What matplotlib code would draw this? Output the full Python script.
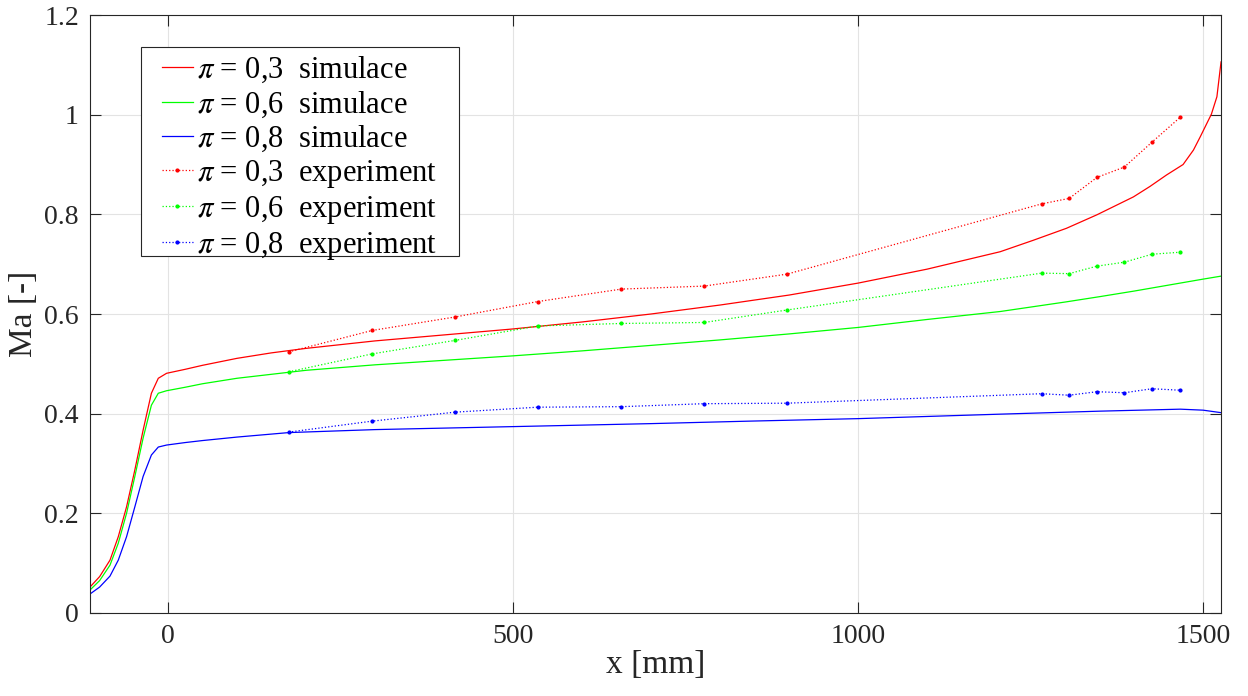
import numpy as np
import matplotlib.pyplot as plt
from matplotlib.patches import Rectangle
from matplotlib.ticker import FuncFormatter

plt.rcParams['font.family'] = ['Liberation Serif', 'DejaVu Serif']
plt.rcParams['mathtext.fontset'] = 'stix'

# simulation curves
sim03_x = [-113, -99, -84, -72, -60, -48, -36, -24, -14, -2, 25, 50, 100, 150, 200, 300, 400, 500,
           600, 700, 800, 900, 1000, 1100, 1206, 1254, 1302, 1346, 1399, 1423, 1447, 1471, 1486, 1496,
           1512, 1520, 1526]
sim03_y = [0.052, 0.073, 0.106, 0.153, 0.213, 0.287, 0.367, 0.441, 0.471, 0.481, 0.489, 0.497,
           0.511, 0.522, 0.531, 0.546, 0.558, 0.570, 0.584, 0.600, 0.618, 0.638, 0.662, 0.690, 0.725,
           0.748, 0.772, 0.799, 0.835, 0.856, 0.879, 0.900, 0.929, 0.956, 1.001, 1.036, 1.106]

sim06_x = [-113, -99, -84, -72, -60, -48, -36, -24, -14, -2, 25, 50, 100, 200, 300, 400, 500,
           600, 700, 800, 900, 1000, 1100, 1206, 1300, 1351, 1400, 1450, 1500, 1526]
sim06_y = [0.046, 0.065, 0.096, 0.140, 0.200, 0.274, 0.351, 0.417, 0.441, 0.446, 0.453, 0.460,
           0.471, 0.487, 0.498, 0.507, 0.516, 0.526, 0.537, 0.548, 0.560, 0.573, 0.589, 0.605, 0.624,
           0.635, 0.646, 0.658, 0.670, 0.676]

sim08_x = [-113, -99, -84, -72, -60, -48, -36, -24, -14, -2, 25, 50, 100, 175, 300, 500,
           700, 843, 1000, 1206, 1350, 1467, 1500, 1526]
sim08_y = [0.038, 0.052, 0.074, 0.106, 0.153, 0.213, 0.274, 0.317, 0.333, 0.337, 0.342, 0.346,
           0.353, 0.362, 0.368, 0.374, 0.380, 0.385, 0.390, 0.399, 0.405, 0.409, 0.407, 0.402]

# experiment points
exp_x = [175, 296, 416, 536, 657, 777, 897, 1266, 1306, 1346, 1386, 1426, 1467]
exp03 = [0.524, 0.567, 0.594, 0.625, 0.650, 0.656, 0.680, 0.821, 0.832, 0.874, 0.895, 0.945, 0.995]
exp06 = [0.484, 0.520, 0.547, 0.576, 0.581, 0.583, 0.608, 0.682, 0.681, 0.696, 0.704, 0.720, 0.724]
exp08 = [0.363, 0.385, 0.403, 0.413, 0.414, 0.420, 0.421, 0.440, 0.437, 0.444, 0.442, 0.450, 0.447]

labels = [r'$\pi$ = 0,3  simulace', r'$\pi$ = 0,6  simulace', r'$\pi$ = 0,8  simulace',
          r'$\pi$ = 0,3  experiment', r'$\pi$ = 0,6  experiment', r'$\pi$ = 0,8  experiment']
colors = ['#ff0000', '#00ff00', '#0000ff']

W, H = 1248, 696
fig = plt.figure(figsize=(W / 100, H / 100), dpi=100)
ax = fig.add_axes([0.0721, 0.1193, 0.9063, 0.8591])

ax.plot(sim03_x, sim03_y, color=colors[0], lw=0.9, label=labels[0])
ax.plot(sim06_x, sim06_y, color=colors[1], lw=0.9, label=labels[1])
ax.plot(sim08_x, sim08_y, color=colors[2], lw=0.9, label=labels[2])
for ys, c, lab in zip([exp03, exp06, exp08], colors, labels[3:]):
    ax.plot(exp_x, ys, color=c, ls=':', lw=0.9, marker='.', ms=4, label=lab)

ax.set_xlim(-113, 1526)
ax.set_ylim(0, 1.2)
ax.set_xticks([0, 500, 1000, 1500])
ax.set_yticks([0, 0.2, 0.4, 0.6, 0.8, 1.0, 1.2])
ax.yaxis.set_major_formatter(FuncFormatter(lambda v, p: '%g' % round(v, 2)))
ax.grid(True, color='#e3e3e3', lw=0.8)
ax.set_axisbelow(True)
ax.tick_params(direction='in', length=8, top=True, right=True, labelsize=20, colors='#262626', pad=8)
for s in ax.spines.values():
    s.set_color('#262626')
    s.set_linewidth(0.8)

ax.set_xlabel('x [mm]', fontsize=24, color='#262626', labelpad=0)
ax.set_ylabel('Ma [-]', fontsize=24, color='#262626', labelpad=4)

# legend box drawn separately (MATLAB style wide side padding)
box = Rectangle((141 / W, 1 - 256 / H), 318 / W, 209 / H, transform=fig.transFigure,
                facecolor='white', edgecolor='#262626', lw=0.8, zorder=4.5)
ax.add_patch(box)
leg = ax.legend(loc='upper left', bbox_to_anchor=(162 / W, 1 - 55 / H), bbox_transform=fig.transFigure,
                borderaxespad=0, fontsize=22, handlelength=1.0, handletextpad=0.15, labelspacing=0.13,
                borderpad=0, frameon=False)

fig.savefig('out.png', dpi=100)
